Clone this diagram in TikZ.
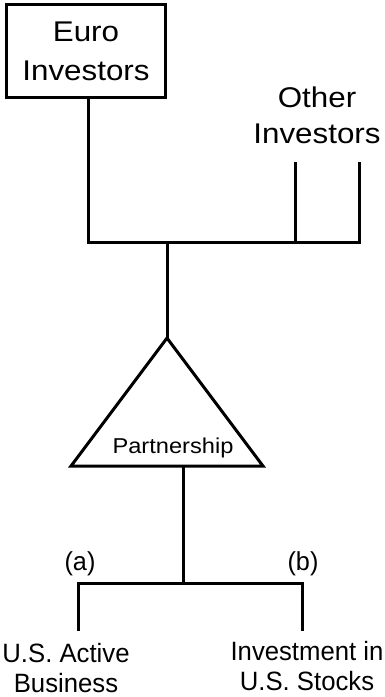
\documentclass[tikz,border=0pt]{standalone}
\usepackage{fontspec}
\setmainfont[FakeStretch=1.1]{Liberation Sans}
\newfontfamily\leaffont[FakeStretch=0.97]{Liberation Sans}
\begin{document}
\begin{tikzpicture}[x=1pt,y=-1pt,
  wire/.style={line width=3pt, line join=miter, line cap=rect},
  bigtext/.style={align=center, inner sep=0pt, font=\fontsize{28.5}{39}\selectfont},
  othertext/.style={align=center, inner sep=0pt, font=\fontsize{28.5}{36}\selectfont},
  leaftext/.style={align=center, inner sep=0pt, font=\leaffont\fontsize{26.5}{30}\selectfont},
  tag/.style={inner sep=0pt, anchor=base, font=\leaffont\fontsize{26}{30}\selectfont},
  holder/.style={draw, line width=3pt, minimum width=159pt, minimum height=93pt}
]
\useasboundingbox (0,0) rectangle (385,697);

% owners
\node[holder, bigtext] (euro) at (86,51) {Euro\\Investors};
\node[othertext] (other) at (317,115) {Other\\Investors};

% junction points of the upper tree
\coordinate (ja) at (88,242);
\coordinate (jm) at (167,242);
\coordinate (jd) at (359,242);
\coordinate (oa) at (295,163);
\coordinate (ob) at (359,163);

% partnership triangle
\coordinate (apex) at (167,338);
\coordinate (tl) at (71,466);
\coordinate (tr) at (263,466);
\coordinate (tb) at (183,466);
\node[inner sep=0pt, anchor=base, font=\fontsize{21.5}{26}\selectfont] (part) at (173,453) {Partnership};

% lower tree
\coordinate (jb) at (183,583);
\coordinate (jl) at (78,583);
\coordinate (jr) at (302,583);
\coordinate (la) at (78,629);
\coordinate (lb) at (302,629);

\node[tag] (ta) at (80,570) {(a)};
\node[tag] (tbb) at (303,570) {(b)};
\node[leaftext] (active) at (66,668) {U.S. Active\\Business};
\node[leaftext] (stocks) at (307,666.5) {Investment in\\U.S. Stocks};

% connectors
\draw[wire] (euro.south -| ja) -- (ja) -- (jd) -- (ob);
\draw[wire] (oa) -- (oa |- ja);
\draw[wire] (jm) -- (apex);
\draw[wire] (apex) -- (tl) -- (tr) -- cycle;
\draw[wire] (tb) -- (jb);
\draw[wire] (la) -- (jl) -- (jr) -- (lb);
\end{tikzpicture}
\end{document}
